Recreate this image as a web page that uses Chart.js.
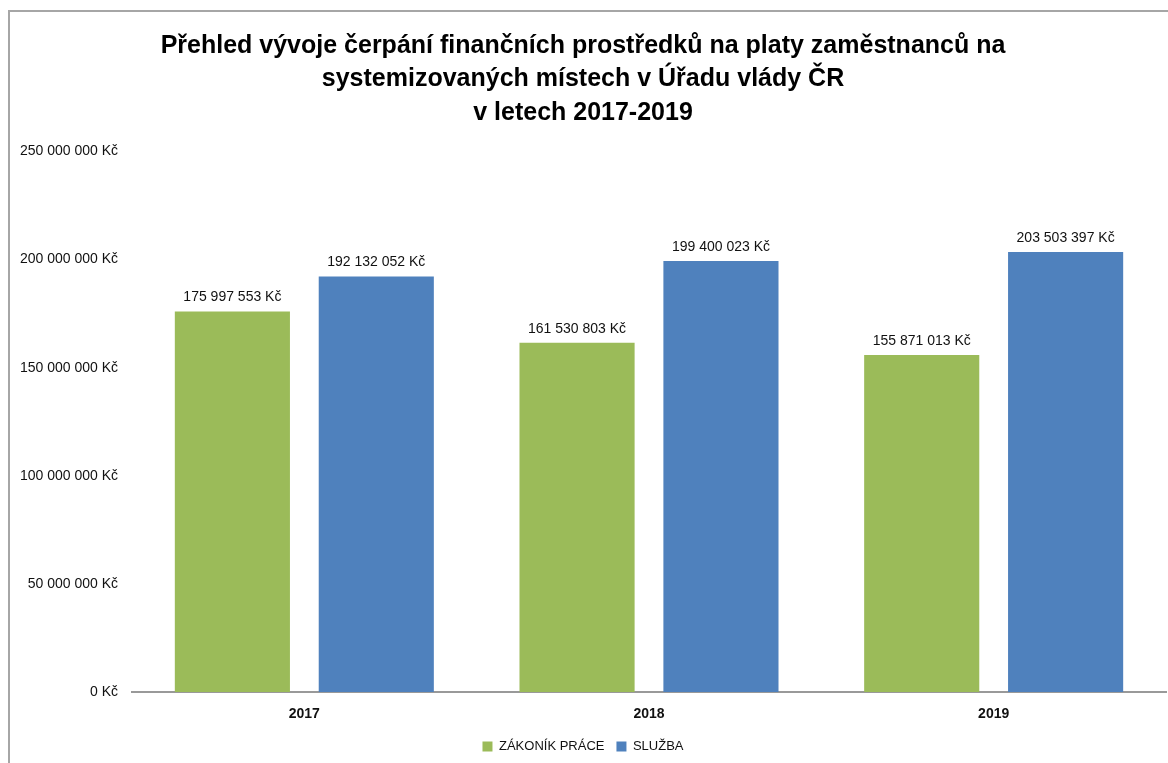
<!DOCTYPE html>
<html>
<head>
<meta charset="utf-8">
<script src="https://cdn.jsdelivr.net/npm/chart.js@4.4.1/dist/chart.umd.min.js"></script>
<style>
  html, body { margin: 0; padding: 0; background: #fff; }
  #wrap { position: relative; width: 1168px; height: 763px; overflow: hidden; }
  #frame { position: absolute; left: 8px; top: 10px; width: 1200px; height: 800px;
           border-left: 2px solid #a6a6a6; border-top: 2px solid #a6a6a6; pointer-events: none; }
  canvas { position: absolute; left: 0; top: 0; }
</style>
</head>
<body>
<div id="wrap">
  <canvas id="c" width="1168" height="763"></canvas>
  <div id="frame"></div>
</div>
<script>
const titleLines = [
  'Přehled vývoje čerpání finančních prostředků na platy zaměstnanců na',
  'systemizovaných místech v Úřadu vlády ČR',
  'v letech 2017-2019'
];
const categories = ['2017', '2018', '2019'];
const seriesNames = ['ZÁKONÍK PRÁCE', 'SLUŽBA'];
const zakonikPrace = [175997553, 161530803, 155871013];
const sluzba = [192132052, 199400023, 203503397];
const yTicks = [0, 50000000, 100000000, 150000000, 200000000, 250000000];
const colors = ['#9BBB59', '#4F81BD'];

const FONT = '"Liberation Sans", Arial, sans-serif';
function fmt(v) {
  return String(Math.round(v)).replace(/\B(?=(\d{3})+(?!\d))/g, ' ') + ' Kč';
}

const valueLabels = {
  id: 'valueLabels',
  afterDatasetsDraw(chart) {
    const ctx = chart.ctx;
    ctx.save();
    ctx.font = '14px ' + FONT;
    ctx.fillStyle = '#111';
    ctx.textAlign = 'center';
    ctx.textBaseline = 'bottom';
    chart.data.datasets.forEach((ds, i) => {
      const meta = chart.getDatasetMeta(i);
      meta.data.forEach((el, j) => {
        ctx.fillText(fmt(ds.data[j]), el.x, el.y - 7);
      });
    });
    ctx.restore();
  }
};

new Chart(document.getElementById('c'), {
  type: 'bar',
  data: {
    labels: categories,
    datasets: [
      { label: seriesNames[0], data: zakonikPrace, backgroundColor: colors[0],
        categoryPercentage: 0.835, barPercentage: 0.8 },
      { label: seriesNames[1], data: sluzba, backgroundColor: colors[1],
        categoryPercentage: 0.835, barPercentage: 0.8 }
    ]
  },
  options: {
    responsive: false,
    animation: false,
    layout: { padding: { left: 0, right: 2, top: 0, bottom: 0 } },
    plugins: {
      title: {
        display: true,
        text: titleLines,
        color: '#000',
        font: { family: FONT, size: 25, weight: 'bold', lineHeight: 1.34 },
        padding: { top: 29, bottom: 22 }
      },
      legend: {
        position: 'bottom',
        maxHeight: 37,
        labels: {
          boxWidth: 10, boxHeight: 10, color: '#111',
          font: { family: FONT, size: 13 },
          padding: 12
        }
      },
      tooltip: { enabled: false }
    },
    scales: {
      x: {
        afterFit(scale) { scale.height = 36; },
        grid: { display: false, drawTicks: false },
        border: { display: true, color: '#999', width: 2 },
        ticks: { color: '#111', font: { family: FONT, size: 14, weight: 'bold' }, padding: 14 }
      },
      y: {
        min: 0, max: 250000000,
        afterBuildTicks(scale) { scale.ticks = yTicks.map(v => ({ value: v })); },
        afterFit(scale) { scale.width = 132; },
        grid: { display: false, drawTicks: false },
        border: { display: false },
        ticks: {
          color: '#111', font: { family: FONT, size: 14 }, padding: 14,
          callback: (v) => fmt(v)
        }
      }
    }
  },
  plugins: [valueLabels]
});
</script>
</body>
</html>
